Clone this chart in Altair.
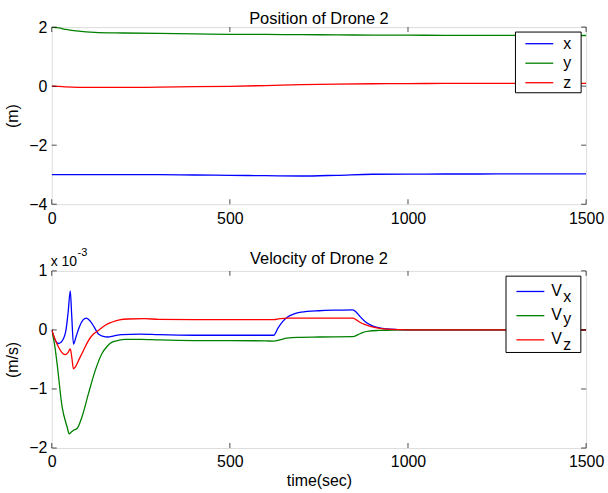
import altair as alt
import pandas as pd

# ---------------- data: Position of Drone 2 (m) ----------------
pos_time = [0, 20, 40, 75, 120, 200, 300, 400, 500, 600, 700, 800, 900, 1000, 1100, 1200, 1300, 1400, 1500]
pos_x = [-3.0, -3.0, -3.0, -3.0, -3.0, -3.0, -3.0, -3.01, -3.02, -3.035, -3.045, -3.02, -2.985, -2.978,
         -2.977, -2.976, -2.975, -2.975, -2.975]
pos_y = [2.0, 1.97, 1.92, 1.86, 1.82, 1.80, 1.785, 1.77, 1.755, 1.75, 1.745, 1.735, 1.73, 1.725,
         1.722, 1.72, 1.718, 1.716, 1.715]
pos_z = [0.0, -0.01, -0.025, -0.04, -0.045, -0.045, -0.035, -0.02, -0.005, 0.02, 0.05, 0.07, 0.08, 0.088,
         0.09, 0.092, 0.094, 0.095, 0.095]

# ---------------- data: Velocity of Drone 2 (x 10^-3 m/s) ----------------
vx_time = [0, 8, 19, 30, 40, 46, 52, 56, 61, 68, 78, 88, 97, 108, 120, 131, 145, 157, 175, 196, 250, 300,
           400, 500, 600, 623, 635, 648, 662, 680, 700, 750, 800, 845, 855, 865, 880, 900, 920, 940, 970,
           1000, 1100, 1500]
vx = [0, -0.15, -0.23, -0.18, 0.0, 0.3, 0.66, 0.25, -0.24, -0.12, 0.06, 0.17, 0.2, 0.15, 0.04, -0.07,
      -0.11, -0.12, -0.1, -0.08, -0.07, -0.08, -0.09, -0.09, -0.09, -0.09, 0.03, 0.14, 0.22, 0.27, 0.3,
      0.325, 0.335, 0.34, 0.3, 0.23, 0.14, 0.07, 0.035, 0.018, 0.006, 0.0, 0.0, 0.0]

vy_time = [0, 8, 15, 29, 43, 49, 55, 61, 71, 85, 103, 122, 141, 155, 168, 185, 206, 250, 300, 400, 500,
           600, 623, 640, 660, 690, 750, 845, 860, 872, 890, 920, 960, 1000, 1500]
vy = [0, -0.25, -0.57, -1.3, -1.64, -1.76, -1.73, -1.70, -1.67, -1.47, -1.08, -0.69, -0.40, -0.28, -0.21,
      -0.18, -0.16, -0.16, -0.17, -0.18, -0.18, -0.185, -0.19, -0.17, -0.14, -0.125, -0.12, -0.115, -0.08,
      -0.045, -0.02, -0.008, -0.001, 0.0, 0.0]

vz_time = [0, 10, 19, 28, 38, 46, 52, 56, 61, 66, 75, 88, 103, 117, 131, 150, 168, 190, 215, 260, 300,
           400, 500, 600, 623, 640, 660, 700, 845, 855, 865, 880, 900, 920, 950, 1000, 1500]
vz = [0, -0.17, -0.29, -0.38, -0.42, -0.38, -0.32, -0.45, -0.66, -0.63, -0.52, -0.36, -0.18, -0.07, -0.01,
      0.08, 0.13, 0.17, 0.185, 0.19, 0.18, 0.175, 0.175, 0.175, 0.175, 0.19, 0.2, 0.2, 0.2, 0.17, 0.13,
      0.09, 0.05, 0.025, 0.008, 0.0, 0.0]

x_ticks = [0, 500, 1000, 1500]
pos_ticks = [-4, -2, 0, 2]
vel_ticks = [-2, -1, 0, 1]

pos_names = ["x", "y", "z"]
vel_names = ["Vx", "Vy", "Vz"]
vel_main = ["V", "V", "V"]
vel_sub = ["x", "y", "z"]
line_colors = ["#0000ff", "#008000", "#ff0000"]

# ---------------- layout constants ----------------
FONT = "Liberation Sans"
FS = 16
W, H = 537, 178


def long_df(times, values, name):
    return pd.DataFrame({"t": times, "v": values, "s": name})


pos_df = pd.concat([long_df(pos_time, pos_x, "x"), long_df(pos_time, pos_y, "y"),
                    long_df(pos_time, pos_z, "z")])
vel_df = pd.concat([long_df(vx_time, vx, "Vx"), long_df(vy_time, vy, "Vy"),
                    long_df(vz_time, vz, "Vz")])


def one_text(text, x, y, size, align="left"):
    return alt.Chart(pd.DataFrame({"b": [0]})).mark_text(
        align=align, baseline="alphabetic", font=FONT, fontSize=size, color="black", text=text).encode(
        x=alt.value(x), y=alt.value(y))


def make_panel(df, names, ydomain, yticks, title, title_y, ytitle, xtitle, legend):
    color = alt.Color("s:N", scale=alt.Scale(domain=names, range=line_colors), legend=None)
    xaxis = alt.Axis(values=x_ticks, format="d", ticks=False, domain=False, grid=False, labelFont=FONT,
                     labelFontSize=FS, labelColor="black", labelPadding=6, labelFlush=False,
                     title=xtitle if xtitle else None, titleFont=FONT, titleFontSize=FS,
                     titleFontWeight="normal", titleColor="black", titleY=38,
                     titleBaseline="alphabetic")
    yaxis = alt.Axis(values=yticks, format="d", ticks=False, domain=False, grid=False, labelFont=FONT,
                     labelFontSize=FS, labelColor="black", labelPadding=5, labelFlush=False,
                     title=ytitle, titleFont=FONT, titleFontSize=FS, titleFontWeight="normal",
                     titleColor="black", titleX=-39, titleY=H / 2, titleBaseline="middle",
                     titleAngle=270)
    xenc = alt.X("t:Q", scale=alt.Scale(domain=[0, 1500], nice=False, zero=False), axis=xaxis)
    yenc = alt.Y("v:Q", scale=alt.Scale(domain=ydomain, nice=False, zero=False), axis=yaxis)

    lines = alt.Chart(df).mark_line(strokeWidth=1.3, interpolate="monotone", clip=True).encode(
        x=xenc, y=yenc, color=color, detail="s:N")

    xt = alt.Chart(pd.DataFrame({"t": x_ticks}))
    yt = alt.Chart(pd.DataFrame({"v": yticks}))
    tick_layers = [
        xt.mark_tick(orient="vertical", size=5, thickness=1, color="black").encode(x=xenc, y=alt.value(H - 2.5)),
        xt.mark_tick(orient="vertical", size=5, thickness=1, color="black").encode(x=xenc, y=alt.value(2.5)),
        yt.mark_tick(orient="horizontal", size=5, thickness=1, color="black").encode(y=yenc, x=alt.value(2.5)),
        yt.mark_tick(orient="horizontal", size=5, thickness=1, color="black").encode(y=yenc, x=alt.value(W - 2.5)),
    ]

    lay = legend
    box = alt.Chart(pd.DataFrame({"b": [0]})).mark_rect(fill="white", stroke="black", strokeWidth=1).encode(
        x=alt.value(lay["box"][0]), x2=alt.value(lay["box"][1]),
        y=alt.value(lay["box"][2]), y2=alt.value(lay["box"][3]))
    leg_layers = [box]
    for i, name in enumerate(names):
        ry = lay["row0"] + i * lay["step"]
        row = alt.Chart(pd.DataFrame({"s": [name]}))
        leg_layers.append(row.mark_rule(strokeWidth=1.3).encode(
            x=alt.value(lay["line"][0]), x2=alt.value(lay["line"][1]), y=alt.value(ry), color=color))
        leg_layers.append(row.mark_text(align="left", baseline="alphabetic", font=FONT, fontSize=FS,
                                        color="black", text=lay["main"][i]).encode(
            x=alt.value(lay["text_x"]), y=alt.value(ry + lay["text_dy"])))
        if lay.get("sub"):
            leg_layers.append(row.mark_text(align="left", baseline="alphabetic", font=FONT, fontSize=FS,
                                            color="black", text=lay["sub"][i]).encode(
                x=alt.value(lay["sub_x"]), y=alt.value(ry + lay["sub_dy"][i])))

    extra = [one_text(title, W / 2, title_y, 16.5, align="center")]
    if lay.get("exponent"):
        extra.append(one_text("x 10", -1, -5, 14))
        extra.append(one_text("-3", 26, -15, 11))

    return alt.layer(lines, *tick_layers, *leg_layers, *extra).properties(width=W, height=H)


top_legend = {"box": (466, 532, 5, 66), "line": (476, 504), "row0": 16.7, "step": 19.6,
              "main": pos_names, "text_x": 514, "text_dy": 5}
bot_legend = {"box": (456.5, 531.7, 5.3, 82), "line": (467, 495), "row0": 20.7, "step": 24.3,
              "main": vel_main, "text_x": 502, "text_dy": 4.5,
              "sub": vel_sub, "sub_x": 514, "sub_dy": [11, 8.5, 10.5], "exponent": True}

top = make_panel(pos_df, pos_names, [-4, 2], pos_ticks, "Position of Drone 2", -3, "(m)", None, top_legend)
bottom = make_panel(vel_df, vel_names, [-2, 1], vel_ticks, "Velocity of Drone 2", -7, "(m/s)", "time(sec)",
                    bot_legend)

chart = alt.vconcat(top, bottom, spacing=67, bounds="flush").properties(
    padding={"left": 4, "top": 9, "right": 3, "bottom": 3}
).configure_view(stroke="black", strokeWidth=1).configure(background="white")

chart.save("out.html", embed_options={"renderer": "svg", "actions": False})
